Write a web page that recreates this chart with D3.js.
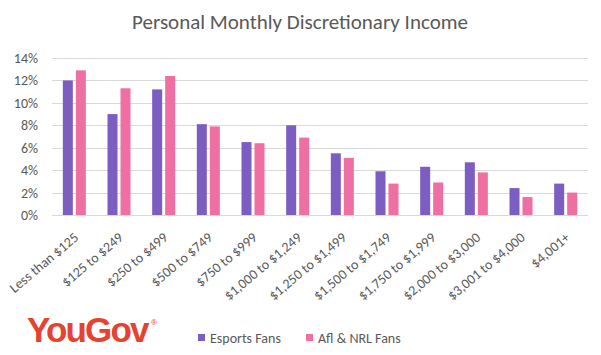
<!DOCTYPE html>
<html><head><meta charset="utf-8">
<script src="https://cdn.jsdelivr.net/npm/d3@7"></script>
<style>body{margin:0;background:#fff;}svg{display:block;}</style>
</head><body>
<svg id="c" width="601" height="355"></svg>
<script>
const categories = ["Less than $125","$125 to $249","$250 to $499","$500 to $749","$750 to $999","$1,000 to $1,249","$1,250 to $1,499","$1,500 to $1,749","$1,750 to $1,999","$2,000 to $3,000","$3,001 to $4,000","$4,001+"];
const esportsFans = [12.0, 9.0, 11.2, 8.1, 6.5, 8.0, 5.5, 3.9, 4.3, 4.7, 2.4, 2.8];
const aflNrlFans = [12.9, 11.3, 12.4, 7.9, 6.4, 6.9, 5.1, 2.8, 2.9, 3.8, 1.6, 2.0];
const yTicks = [0, 2, 4, 6, 8, 10, 12, 14];
const seriesNames = ["Esports Fans", "Afl & NRL Fans"];
const colors = ["#7C5EC2", "#F06FA2"];

const svg = d3.select("#c");
const font = "Carlito, Lato, 'Open Sans', sans-serif";
const mLeft = 52, mRight = 588, mTop = 58, mBottom = 215;

const x = d3.scaleBand().domain(categories).range([mLeft, mRight]);
const y = d3.scaleLinear().domain([0, 14]).range([mBottom, mTop]);

svg.append("text").attr("x", 300).attr("y", 29).attr("text-anchor", "middle")
  .attr("font-family", font).attr("font-size", 21).attr("fill", "#595959")
  .text("Personal Monthly Discretionary Income");

// grid
const grid = svg.append("g");
grid.selectAll("line").data(yTicks).join("line")
  .attr("x1", mLeft).attr("x2", mRight)
  .attr("y1", d => Math.round(y(d)) + 0.5).attr("y2", d => Math.round(y(d)) + 0.5)
  .attr("stroke", "#d9d9d9").attr("stroke-width", 1);

// y axis
const yAxis = svg.append("g").attr("transform", `translate(${mLeft - 11},0)`)
  .call(d3.axisLeft(y).tickValues(yTicks).tickFormat(d => d + "%").tickSize(0));
yAxis.select(".domain").remove();
yAxis.selectAll("text").attr("font-family", font).attr("font-size", 14).attr("fill", "#595959");

// bars
const bw = 10, gap = 3;
const series = [esportsFans, aflNrlFans];
series.forEach((vals, si) => {
  svg.append("g").selectAll("rect").data(vals).join("rect")
    .attr("x", (d, i) => x(categories[i]) + x.bandwidth() / 2 - (bw + gap / 2) + si * (bw + gap))
    .attr("width", bw)
    .attr("y", d => y(d))
    .attr("height", d => y(0) - y(d))
    .attr("fill", colors[si]);
});

// x axis
const xAxis = svg.append("g").attr("transform", `translate(0,${mBottom})`)
  .call(d3.axisBottom(x).tickSize(0));
xAxis.select(".domain").remove();
xAxis.selectAll("text")
  .attr("font-family", font).attr("font-size", 14).attr("fill", "#595959")
  .attr("text-anchor", "end").attr("dy", 0).attr("y", 0)
  .attr("transform", "translate(5,24) rotate(-40)");

// logo
svg.append("text").attr("x", 27).attr("y", 342)
  .attr("font-family", "'Liberation Sans', Arial, sans-serif").attr("font-weight", "bold")
  .attr("font-size", 35).attr("fill", "#E5432F").attr("letter-spacing", -1.8)
  .text("YouGov");
svg.append("text").attr("x", 151).attr("y", 325)
  .attr("font-family", "'Liberation Sans', Arial, sans-serif")
  .attr("font-size", 8).attr("fill", "#E5432F").text("®");

// legend
const legX = [198, 306];
const leg = svg.append("g").selectAll("g").data(seriesNames).join("g")
  .attr("transform", (d, i) => `translate(${legX[i]},334)`);
leg.append("rect").attr("width", 7).attr("height", 7).attr("fill", (d, i) => colors[i]);
leg.append("text").attr("x", 12).attr("y", 8.5).attr("font-family", font).attr("font-size", 14)
  .attr("fill", "#595959").text(d => d);
</script>
</body></html>
